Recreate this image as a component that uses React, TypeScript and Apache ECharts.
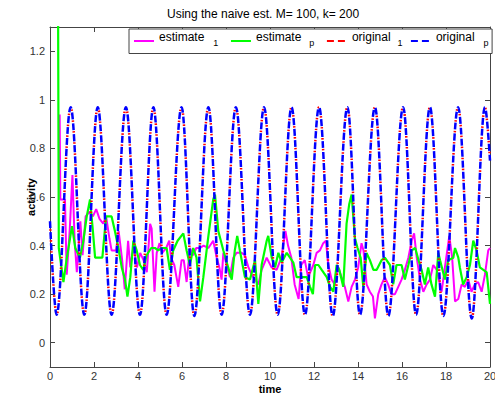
import React, { useEffect, useRef } from "react";
import * as echarts from "echarts";

const chartTitle = "Using the naive est. M= 100, k= 200";
const xAxisName = "time";
const yAxisName = "activity";
const seriesNames = ["estimate_1", "estimate_p", "original_1", "original_p"];
const legendLabels = ["estimate", "estimate", "original", "original"];
const legendSubscripts = ["1", "p", "1", "p"];
const seriesColors = ["#ff00ff", "#00ff00", "#ff0000", "#0000ff"];

const xMin = 0;
const xMax = 20;
const xInterval = 2;
const yMin = -0.1;
const yMax = 1.3;
const yStep = 0.2;

// estimate_1 (magenta): [time, activity]
const estimate1Points: [number, number][] = [
  [0.44, 0.94], [0.47, 0.59], [0.68, 0.59], [0.76, 0.28], [0.9, 0.47], [1.02, 0.69], [1.12, 0.42], [1.22, 0.29],
  [1.38, 0.5], [1.48, 0.36], [1.62, 0.52], [1.8, 0.54], [1.95, 0.52], [2.1, 0.55], [2.25, 0.51], [2.42, 0.49],
  [2.55, 0.52], [2.7, 0.43], [2.8, 0.38], [3.0, 0.38], [3.12, 0.46], [3.28, 0.34], [3.4, 0.22], [3.55, 0.42],
  [3.65, 0.31], [3.8, 0.4], [3.95, 0.31], [4.1, 0.37], [4.25, 0.34], [4.4, 0.29], [4.55, 0.49], [4.62, 0.47],
  [4.75, 0.21], [4.85, 0.37], [4.98, 0.41], [5.1, 0.37], [5.28, 0.39], [5.42, 0.42], [5.5, 0.35], [5.65, 0.32],
  [5.83, 0.23], [5.98, 0.34], [6.08, 0.34], [6.21, 0.25], [6.36, 0.39], [6.5, 0.36], [6.65, 0.39], [6.82, 0.39],
  [6.98, 0.4], [7.2, 0.39], [7.42, 0.42], [7.58, 0.35], [7.7, 0.31], [7.8, 0.26], [7.88, 0.37], [8.03, 0.32],
  [8.18, 0.27], [8.33, 0.35], [8.48, 0.37], [8.71, 0.37], [8.86, 0.36], [9.02, 0.31], [9.17, 0.28], [9.32, 0.26],
  [9.47, 0.24], [9.62, 0.3], [9.85, 0.35], [10.07, 0.31], [10.3, 0.3], [10.52, 0.35], [10.7, 0.46], [10.82, 0.4],
  [10.97, 0.35], [11.12, 0.24], [11.3, 0.18], [11.42, 0.32], [11.58, 0.34], [11.73, 0.27], [11.97, 0.32], [12.12, 0.37],
  [12.27, 0.38], [12.42, 0.41], [12.54, 0.42], [12.65, 0.32], [12.8, 0.26], [12.95, 0.24], [13.1, 0.31], [13.25, 0.27],
  [13.4, 0.23], [13.56, 0.17], [13.71, 0.23], [13.86, 0.26], [14.01, 0.31], [14.16, 0.41], [14.25, 0.38], [14.39, 0.24],
  [14.54, 0.21], [14.68, 0.19], [14.77, 0.1], [14.92, 0.2], [15.07, 0.24], [15.22, 0.27], [15.37, 0.24], [15.52, 0.2],
  [15.68, 0.2], [15.83, 0.23], [15.98, 0.26], [16.13, 0.3], [16.29, 0.35], [16.44, 0.42], [16.55, 0.45], [16.67, 0.35],
  [16.82, 0.26], [16.97, 0.21], [17.12, 0.24], [17.27, 0.26], [17.42, 0.32], [17.58, 0.3], [17.8, 0.21], [17.95, 0.31],
  [18.15, 0.44], [18.28, 0.35], [18.41, 0.17], [18.56, 0.18], [18.71, 0.24], [18.86, 0.23], [19.01, 0.26], [19.16, 0.21],
  [19.31, 0.24], [19.46, 0.25], [19.62, 0.21], [19.77, 0.28], [19.92, 0.38], [20.0, 0.39],
];

// estimate_p (green): [time, activity]
const estimatePPoints: [number, number][] = [
  [0.36, 1.6], [0.4, 0.39], [0.61, 0.25], [0.75, 0.34], [1.0, 0.48], [1.15, 0.39], [1.36, 0.35], [1.5, 0.41],
  [1.67, 0.52], [1.82, 0.59], [1.95, 0.46], [2.05, 0.35], [2.2, 0.35], [2.38, 0.35], [2.55, 0.52], [2.8, 0.52],
  [2.95, 0.46], [3.11, 0.39], [3.26, 0.31], [3.41, 0.26], [3.52, 0.19], [3.65, 0.27], [3.79, 0.42], [3.94, 0.38],
  [4.09, 0.32], [4.24, 0.3], [4.39, 0.36], [4.6, 0.39], [4.77, 0.39], [4.92, 0.38], [5.08, 0.39], [5.3, 0.39],
  [5.45, 0.3], [5.6, 0.38], [5.8, 0.42], [6.06, 0.45], [6.21, 0.38], [6.36, 0.32], [6.51, 0.39], [6.66, 0.35],
  [6.82, 0.17], [6.97, 0.27], [7.2, 0.44], [7.42, 0.59], [7.5, 0.61], [7.65, 0.46], [7.88, 0.38], [8.1, 0.31],
  [8.26, 0.26], [8.4, 0.38], [8.51, 0.44], [8.63, 0.38], [8.86, 0.27], [9.09, 0.26], [9.32, 0.34], [9.47, 0.16],
  [9.62, 0.32], [9.85, 0.42], [9.92, 0.44], [10.08, 0.35], [10.23, 0.31], [10.38, 0.37], [10.53, 0.33], [10.76, 0.37],
  [10.91, 0.35], [11.06, 0.33], [11.21, 0.27], [11.45, 0.27], [11.67, 0.27], [11.82, 0.23], [11.95, 0.2], [12.05, 0.32],
  [12.2, 0.32], [12.35, 0.3], [12.58, 0.27], [12.73, 0.23], [12.88, 0.21], [13.03, 0.32], [13.15, 0.3], [13.33, 0.23],
  [13.48, 0.49], [13.6, 0.57], [13.71, 0.61], [13.86, 0.43], [13.98, 0.39], [14.12, 0.35], [14.24, 0.23], [14.39, 0.37],
  [14.54, 0.34], [14.7, 0.3], [14.85, 0.3], [15.07, 0.34], [15.22, 0.35], [15.45, 0.32], [15.6, 0.24], [15.75, 0.32],
  [15.98, 0.32], [16.13, 0.26], [16.29, 0.32], [16.44, 0.38], [16.6, 0.39], [16.75, 0.34], [16.89, 0.3], [17.04, 0.24],
  [17.19, 0.31], [17.34, 0.24], [17.5, 0.19], [17.65, 0.37], [17.73, 0.34], [17.95, 0.26], [18.1, 0.34], [18.33, 0.35],
  [18.41, 0.39], [18.56, 0.35], [18.63, 0.31], [18.78, 0.24], [18.94, 0.27], [19.09, 0.32], [19.24, 0.42], [19.39, 0.38],
  [19.54, 0.31], [19.7, 0.3], [19.85, 0.29], [20.0, 0.16],
];

// original curves: start, alternating troughs / peaks, end
const originalTimes = [
  0.0, 0.3, 0.94, 1.56, 2.17, 2.8, 3.45, 4.09, 4.7, 5.3, 5.98, 6.56, 7.2, 7.8, 8.45, 9.09, 9.73,
  10.35, 10.98, 11.59, 12.23, 12.85, 13.52, 14.09, 14.77, 15.38, 16.05, 16.64, 17.27, 17.88, 18.55, 19.17, 19.77, 20.0,
];
const original1Values = [
  0.5, 0.115, 0.97, 0.115, 0.97, 0.115, 0.97, 0.115, 0.97, 0.115, 0.97, 0.11, 0.97, 0.115, 0.97, 0.115, 0.97,
  0.115, 0.97, 0.115, 0.97, 0.11, 0.97, 0.115, 0.97, 0.11, 0.97, 0.115, 0.97, 0.11, 0.97, 0.1, 0.97, 0.75,
];
const originalPValues = [
  0.5, 0.115, 0.97, 0.115, 0.97, 0.115, 0.97, 0.115, 0.97, 0.115, 0.97, 0.11, 0.97, 0.115, 0.97, 0.115, 0.97,
  0.115, 0.97, 0.115, 0.97, 0.11, 0.97, 0.115, 0.97, 0.11, 0.97, 0.115, 0.97, 0.11, 0.97, 0.1, 0.97, 0.75,
];

const FONT = "'Liberation Sans', Arial, Helvetica, sans-serif";
const AXIS_COLOR = "#444";

export default function App() {
  const ref = useRef<HTMLDivElement>(null);

  useEffect(() => {
    if (!ref.current) return;
    const chart = echarts.init(ref.current, null, { renderer: "svg" });

    const subStyles = ["s1", "s2", "s3", "s4"];
    const subPadding = [
      [3, 4.6, 0, 9],
      [3, 4.6, 0, 8],
      [3, 0.3, 0, 7],
      [3, 0, 0, 9],
    ];
    const rich: Record<string, any> = {
      a: { fontSize: 12, lineHeight: 14, padding: [0, 0, 9, 0], color: "#000", fontFamily: FONT },
    };
    subStyles.forEach((k, i) => {
      rich[k] = { fontSize: 9, lineHeight: 11, padding: subPadding[i], color: "#000", fontFamily: FONT };
    });

    const zip = (ts: number[], vs: number[]) => ts.map((t, i) => [t, vs[i]]);

    const option: any = {
      animation: false,
      backgroundColor: "#fff",
      textStyle: { fontFamily: FONT },
      title: {
        text: chartTitle,
        left: 167,
        top: 8,
        padding: 0,
        textStyle: { fontSize: 12, fontWeight: "normal", color: "#000", fontFamily: FONT },
      },
      legend: {
        left: 129,
        top: 29,
        orient: "horizontal",
        padding: [1.5, 3.5, 2, 4],
        itemGap: 7,
        itemWidth: 20,
        itemHeight: 14,
        borderColor: AXIS_COLOR,
        borderWidth: 1,
        backgroundColor: "#fff",
        selectedMode: false,
        itemStyle: { opacity: 0 },
        data: seriesNames.map((n, i) =>
          i >= 2 ? { name: n, lineStyle: { type: [7, 4], dashOffset: 0 } } : { name: n }
        ),
        formatter: (name: string) => {
          const i = seriesNames.indexOf(name);
          return `{a|${legendLabels[i]}}{${subStyles[i]}|${legendSubscripts[i]}}`;
        },
        textStyle: { rich, fontSize: 12, color: "#000", fontFamily: FONT },
      },
      grid: { left: 50, right: 5, top: 27, bottom: 28, containLabel: false, outerBoundsMode: "none" },
      xAxis: [
        {
          type: "value",
          min: xMin,
          max: xMax,
          interval: xInterval,
          position: "bottom",
          name: xAxisName,
          nameLocation: "middle",
          nameGap: 16,
          nameMoveOverlap: false,
          nameTextStyle: { fontWeight: "bold", fontSize: 11, color: "#000", fontFamily: FONT },
          axisLine: { show: true, onZero: false, lineStyle: { color: AXIS_COLOR, width: 1 } },
          axisTick: { show: true, inside: true, length: 5, lineStyle: { color: AXIS_COLOR } },
          axisLabel: { color: "#333", fontSize: 11, margin: 3, fontFamily: FONT },
          splitLine: { show: false },
        },
        {
          type: "value",
          min: xMin,
          max: xMax,
          interval: xInterval,
          position: "top",
          axisLine: { show: true, onZero: false, lineStyle: { color: AXIS_COLOR, width: 1 } },
          axisTick: { show: true, inside: true, length: 5, lineStyle: { color: AXIS_COLOR } },
          axisLabel: { show: false },
          splitLine: { show: false },
        },
      ],
      yAxis: [
        {
          type: "value",
          min: yMin,
          max: yMax,
          splitNumber: 7,
          minInterval: yStep,
          maxInterval: yStep,
          position: "left",
          name: yAxisName,
          nameLocation: "middle",
          nameGap: 14,
          nameMoveOverlap: false,
          nameTextStyle: { fontWeight: "bold", fontSize: 11, color: "#000", fontFamily: FONT },
          axisLine: { show: true, onZero: false, lineStyle: { color: AXIS_COLOR, width: 1 } },
          axisTick: { show: true, inside: true, length: 5, lineStyle: { color: AXIS_COLOR } },
          axisLabel: { color: "#333", fontSize: 11, margin: 5, showMinLabel: false, showMaxLabel: false, fontFamily: FONT },
          splitLine: { show: false },
        },
        {
          type: "value",
          min: yMin,
          max: yMax,
          splitNumber: 7,
          minInterval: yStep,
          maxInterval: yStep,
          position: "right",
          axisLine: { show: true, onZero: false, lineStyle: { color: AXIS_COLOR, width: 1 } },
          axisTick: { show: true, inside: true, length: 5, lineStyle: { color: AXIS_COLOR } },
          axisLabel: { show: false },
          splitLine: { show: false },
        },
      ],
      series: [
        {
          name: seriesNames[0],
          type: "line",
          data: estimate1Points,
          symbol: "none",
          lineStyle: { color: seriesColors[0], width: 2 },
          itemStyle: { color: seriesColors[0] },
        },
        {
          name: seriesNames[1],
          type: "line",
          data: estimatePPoints,
          symbol: "none",
          lineStyle: { color: seriesColors[1], width: 2.2 },
          itemStyle: { color: seriesColors[1] },
        },
        {
          name: seriesNames[2],
          type: "line",
          data: zip(originalTimes, original1Values),
          symbol: "none",
          smooth: 0.36,
          smoothMonotone: "x",
          lineStyle: { color: seriesColors[2], width: 2.5, type: [1.5, 9.5], dashOffset: 2.75 },
          itemStyle: { color: seriesColors[2] },
        },
        {
          name: seriesNames[3],
          type: "line",
          data: zip(originalTimes, originalPValues),
          symbol: "none",
          smooth: 0.36,
          smoothMonotone: "x",
          lineStyle: { color: seriesColors[3], width: 2.5, type: [7, 4], dashOffset: 0 },
          itemStyle: { color: seriesColors[3] },
        },
      ],
    };

    chart.setOption(option);
    return () => chart.dispose();
  }, []);

  return (
    <div
      ref={ref}
      style={{ position: "absolute", left: 0, top: 0, width: 495, height: 395, background: "#fff" }}
    />
  );
}
